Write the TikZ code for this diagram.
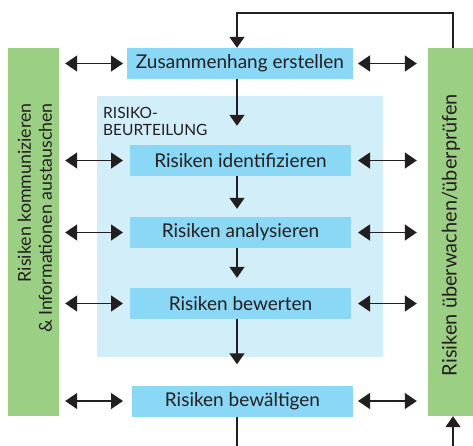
\documentclass[tikz,border=0pt]{standalone}
\usepackage{fontspec}
\setmainfont{Lato}
\usetikzlibrary{arrows.meta}
\definecolor{riskInk}{HTML}{231F20}
\definecolor{riskGreen}{HTML}{9BCF84}
\definecolor{riskBlue}{HTML}{8AD8F6}
\definecolor{riskPale}{HTML}{D2EEF9}

\begin{document}
\begin{tikzpicture}[x=1pt,y=-1pt,
  stepbox/.style={fill=riskBlue, text=riskInk, inner sep=0pt, minimum height=31pt,
    font=\fontsize{19}{21}\selectfont},
  sidebar/.style={fill=riskGreen, inner sep=0pt, minimum height=368pt},
  barlabel/.style={text=riskInk, rotate=90, align=right, inner sep=0pt},
  flowline/.style={draw=riskInk, line width=1.4pt},
  flow/.style={flowline, -{Triangle[width=15pt,length=11pt]}},
  both/.style={flowline, {Triangle[width=16pt,length=12pt]}-{Triangle[width=16pt,length=12pt]}}]
\useasboundingbox (0,0) rectangle (473,445);

% frame of the assessment and the two side bars
\node[fill=riskPale, minimum width=286pt, minimum height=261pt, inner sep=0pt] (assess) at (240,226.5) {};
\node[anchor=north west, align=left, inner sep=0pt, text=riskInk,
  font=\fontsize{15.5}{17}\selectfont] (assesslab) at (103,107) {RISIKO-\\BEURTEILUNG};
\node[sidebar, minimum width=51pt] (talk) at (33.5,232) {};
\node[sidebar, minimum width=47pt] (watch) at (451.5,232) {};
\node[barlabel, anchor=east, font=\fontsize{17.8}{21}\selectfont] (talklab) at (35,103)
  {Risiken kommunizieren\\\& Informationen austauschen};
\node[barlabel, font=\fontsize{20}{21}\selectfont] (watchlab) at (451,235) {Risiken überwachen/überprüfen};

% the five steps
\node[stepbox, minimum width=226pt] (ctx)   at (240,63.5)  {Zusammenhang erstellen};
\node[stepbox, minimum width=221pt] (ident) at (240.5,160.5) {Risiken identifizieren};
\node[stepbox, minimum width=221pt] (anal)  at (240.5,232.5) {Risiken analysieren};
\node[stepbox, minimum width=221pt] (eval)  at (240.5,303.5) {Risiken bewerten};
\node[stepbox, minimum width=221pt] (treat) at (242.5,401)  {Risiken bewältigen};

\coordinate (loopL) at (237,13);
\coordinate (loopR) at (453,13);
\coordinate (baseL) at (237,447);
\coordinate (baseR) at (453,447);

% main flow
\draw[flow, shorten >=19pt] (ctx.south -| loopL) -- (ident.north -| loopL);
\draw[flow, shorten >=8pt] (ident.south -| loopL) -- (anal.north -| loopL);
\draw[flow, shorten >=10pt] (anal.south -| loopL) -- (eval.north -| loopL);
\draw[flow, shorten >=21pt] (eval.south -| loopL) -- (treat.north -| loopL);
\draw[flowline] (treat.south -| baseL) -- (baseL);
\draw[flow] (baseR) -- (watch.south -| baseR);
\draw[flow] (watch.north -| loopR) -- (loopR) -- (loopL) -- (ctx.north -| loopL);

% exchange with the side bars
\foreach \s in {ctx,ident,anal,eval,treat} {
  \draw[both, shorten <=6pt, shorten >=4pt] (talk.east |- \s) -- (\s.west -| 127,0);
  \draw[both, shorten <=5pt, shorten >=11pt] (\s.east -| 353,0) -- (watch.west |- \s);
}
\end{tikzpicture}
\end{document}
